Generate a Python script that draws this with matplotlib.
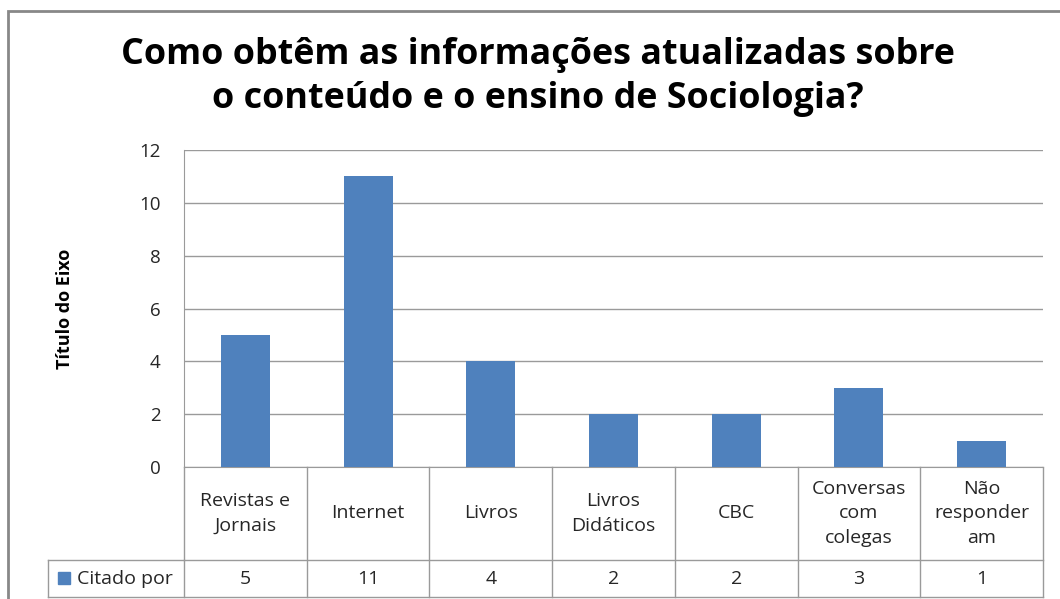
import numpy as np
import matplotlib.pyplot as plt
from matplotlib.transforms import blended_transform_factory
from matplotlib.patches import Rectangle

# Data
categories = ["Revistas e\nJornais", "Internet", "Livros", "Livros\nDidáticos",
              "CBC", "Conversas\ncom\ncolegas", "Não\nresponder\nam"]
values = [5, 11, 4, 2, 2, 3, 1]
series_name = "Citado por"
title = "Como obtêm as informações atualizadas sobre\no conteúdo e o ensino de Sociologia?"
y_label = "Título do Eixo"

bar_color = "#4F81BD"
grid_color = "#9A9A9A"
text_color = "#262626"

W, H = 1060, 599
fig = plt.figure(figsize=(W / 100, H / 100), dpi=100)
plt.rcParams['font.family'] = ['Open Sans', 'DejaVu Sans']

# plot area in pixels
left, right, top, bottom = 184, 1043, 150, 467
ax = fig.add_axes([left / W, 1 - bottom / H, (right - left) / W, (bottom - top) / H])

x = np.arange(len(categories))
ax.bar(x, values, width=0.4, color=bar_color, zorder=3)
ax.set_xlim(-0.5, len(categories) - 0.5)
ax.set_ylim(0, 12)
ax.set_yticks(range(0, 13, 2))
ax.yaxis.grid(True, color=grid_color, linewidth=1)
ax.set_axisbelow(True)
ax.set_xticks([])
for s in ["top", "right"]:
    ax.spines[s].set_visible(False)
ax.spines["left"].set_color(grid_color)
ax.spines["bottom"].set_color(grid_color)
ax.tick_params(axis="y", length=0, pad=17, labelsize=13.5, labelcolor=text_color)
ax.set_ylabel(y_label, fontsize=13, fontweight="bold", labelpad=47)

# data table under the plot
ph = bottom - top
hdr = 93 / ph
row = 130 / ph
tr = blended_transform_factory(ax.transData, ax.transAxes)
line_kw = dict(color=grid_color, linewidth=1, clip_on=False, transform=tr)
for b in np.arange(len(categories) + 1) - 0.5:
    ax.plot([b, b], [0, -row], **line_kw)
ax.plot([-0.5, len(categories) - 0.5], [-hdr, -hdr], **line_kw)
for i, (c, v) in enumerate(zip(categories, values)):
    ax.text(i, -hdr / 2, c, transform=tr, ha="center", va="center",
            fontsize=14, color=text_color, linespacing=1.45)
    ax.text(i, -(hdr + row) / 2, str(v), transform=tr, ha="center", va="center",
            fontsize=14, color=text_color)

# legend cell
fx = lambda px: px / W
fy = lambda py: 1 - py / H
lc = dict(color=grid_color, linewidth=1, transform=fig.transFigure)
fig.add_artist(plt.Line2D([fx(48), fx(left)], [fy(560), fy(560)], **lc))
fig.add_artist(plt.Line2D([fx(48), fx(right)], [fy(597), fy(597)], **lc))
fig.add_artist(plt.Line2D([fx(48), fx(48)], [fy(560), fy(597)], **lc))
fig.add_artist(Rectangle((fx(58), fy(584)), fx(12), 12 / H, color=bar_color,
                         transform=fig.transFigure))
fig.text(fx(77), fy(578.5), series_name, ha="left", va="center", fontsize=14,
         color=text_color)

# outer chart border
fig.add_artist(Rectangle((fx(8), -0.1), 1.2, fy(11) + 0.1, fill=False,
                         edgecolor="#888888", linewidth=2, transform=fig.transFigure))

fig.text(fx(538), fy(77), title, ha="center", va="center", fontsize=25.8,
         fontweight="bold", linespacing=1.27)

fig.savefig("out.png", dpi=100)
